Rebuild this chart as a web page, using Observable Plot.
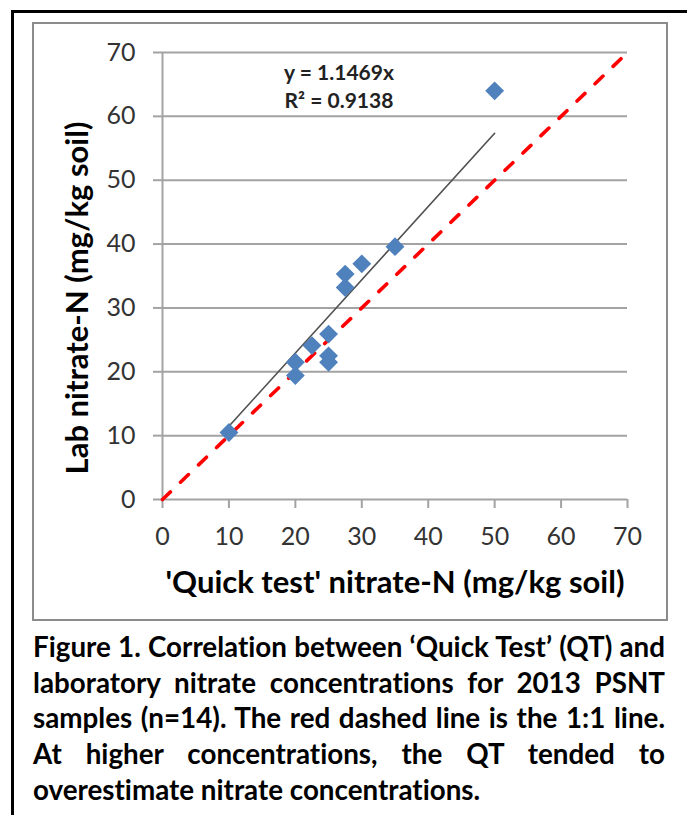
<!DOCTYPE html>
<html>
<head>
<meta charset="utf-8">
<script src="https://cdn.jsdelivr.net/npm/d3@7"></script>
<script src="https://cdn.jsdelivr.net/npm/@observablehq/plot@0.6"></script>
<style>
  body { margin: 0; background: #fff; width: 687px; height: 815px; overflow: hidden; position: relative; font-family: Lato, sans-serif; font-variant-ligatures: none; }
  svg text { font-variant-ligatures: none; }
  #outer { position: absolute; left: 11px; top: 10px; width: 800px; height: 900px; border-left: 3px solid #000; border-top: 3px solid #000; }
  #box { position: absolute; left: 32px; top: 22px; width: 636px; height: 599px; border: 2px solid #8c8c8c; box-sizing: border-box; }
  #chart { position: absolute; left: 0; top: 0; }
  #caption { position: absolute; left: 33px; top: 629px; width: 632px; font-weight: 700; color: #000; }
  #caption .ln { text-align: justify; text-align-last: justify; line-height: 35.7px; }
  #caption .ln.last { text-align-last: left; }
</style>
</head>
<body>
<div id="outer"></div>
<div id="box"></div>
<div id="chart"></div>
<div id="caption"></div>
<script>
// ---- data ----
const quickTest = [10, 20, 20, 22.5, 25, 25, 25, 27.5, 27.5, 30, 35, 50];
const labNitrate = [10.5, 21.5, 19.4, 24.1, 25.9, 22.5, 21.5, 35.3, 33.2, 36.9, 39.6, 64.0];
const slope = 1.1469;
const rSquared = 0.9138;
const xTicks = [0, 10, 20, 30, 40, 50, 60, 70];
const yTicks = [0, 10, 20, 30, 40, 50, 60, 70];
const xTitle = "'Quick test' nitrate-N (mg/kg soil)";
const yTitle = "Lab nitrate-N (mg/kg soil)";
const captionLines = [
  "Figure 1. Correlation between \u2018Quick Test\u2019 (QT) and",
  "laboratory nitrate concentrations for 2013 PSNT",
  "samples (n=14). The red dashed line is the 1:1 line.",
  "At higher concentrations, the QT tended to",
  "overestimate nitrate concentrations."
];

const points = quickTest.map((x, i) => ({x, y: labNitrate[i]}));
const trend = d3.extent(quickTest).map(x => ({x, y: slope * x}));
const oneToOne = [xTicks[0], xTicks[xTicks.length - 1]].map(v => ({x: v, y: v}));
const gridColor = "#a3a3a3";

const chart = Plot.plot({
  width: 687,
  height: 620,
  marginLeft: 162,
  marginRight: 60,
  marginTop: 52,
  marginBottom: 121,
  style: {background: "transparent", fontFamily: "Lato, sans-serif"},
  x: {domain: [0, 70], label: null},
  y: {domain: [0, 70], label: null},
  marks: [
    Plot.ruleY(yTicks.filter(d => d > 0), {stroke: gridColor, strokeWidth: 2}),
    Plot.ruleX([0], {stroke: gridColor, strokeWidth: 2}),
    Plot.ruleY([0], {stroke: gridColor, strokeWidth: 2}),
    Plot.axisY(yTicks, {tickSize: 9, tickPadding: 18, stroke: gridColor, strokeWidth: 2, fill: "#333", fontSize: 25}),
    Plot.axisX(xTicks, {tickSize: 9, tickPadding: 19, stroke: gridColor, strokeWidth: 2, fill: "#333", fontSize: 25}),
    Plot.line(trend, {x: "x", y: "y", stroke: "#505050", strokeWidth: 1.6}),
    Plot.line(oneToOne, {x: "x", y: "y", stroke: "#ff0000", strokeWidth: 3.6, strokeDasharray: "11,14", strokeLinecap: "round"}),
    Plot.dot(points, {x: "x", y: "y", symbol: "diamond2", r: 8.5, fill: "#4f81bd", stroke: "none"}),
    Plot.text([`y = ${slope}x`], {frameAnchor: "top", dx: -56, dy: 21, textAnchor: "middle", lineAnchor: "middle", fontSize: 21, fontWeight: "bold", fill: "#222"}),
    Plot.text([`R\u00b2 = ${rSquared}`], {frameAnchor: "top", dx: -56, dy: 49, textAnchor: "middle", lineAnchor: "middle", fontSize: 21, fontWeight: "bold", fill: "#222"}),
    Plot.text([xTitle], {frameAnchor: "bottom", dy: 84, textAnchor: "middle", lineAnchor: "middle", fontSize: 31, fontWeight: "bold", fill: "#000"}),
    Plot.text([yTitle], {frameAnchor: "left", rotate: -90, dx: -84, dy: 22, textAnchor: "middle", lineAnchor: "middle", fontSize: 31, fontWeight: "bold", fill: "#000"})
  ]
});
document.getElementById("chart").appendChild(chart);

// ---- caption (justified lines) ----
const cap = document.getElementById("caption");
const probe = document.createElement("span");
probe.style.cssText = "position:absolute;visibility:hidden;white-space:nowrap;font-weight:700;font-family:Lato,sans-serif;font-size:100px;font-variant-ligatures:none";
document.body.appendChild(probe);
let fs = 100;
[captionLines[0], captionLines[2]].forEach(t => {
  probe.textContent = t;
  fs = Math.min(fs, 632 / probe.getBoundingClientRect().width * 100 * 0.995);
});
probe.remove();
captionLines.forEach((t, i) => {
  const d = document.createElement("div");
  d.className = "ln" + (i === captionLines.length - 1 ? " last" : "");
  d.textContent = t;
  cap.appendChild(d);
});
cap.style.fontSize = fs + "px";
</script>
</body>
</html>
